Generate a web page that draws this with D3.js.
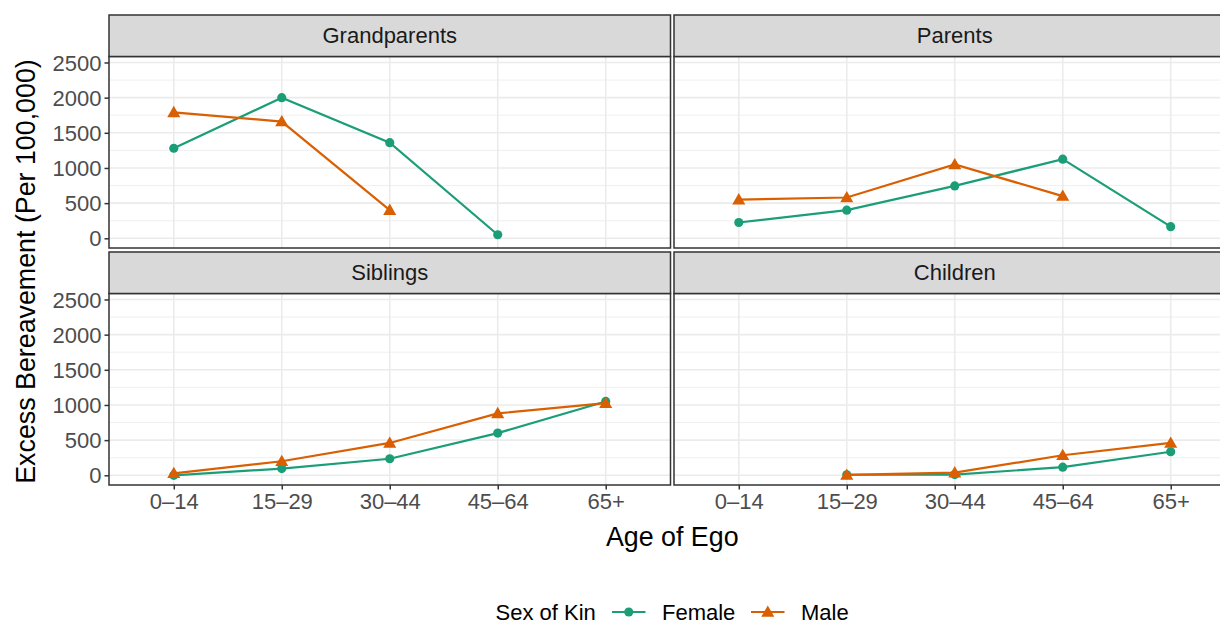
<!DOCTYPE html>
<html lang="en">
<head>
    <meta charset="UTF-8">
    <title>Excess Bereavement</title>
    <script src="https://d3js.org/d3.v7.min.js"></script>
    <style>
        html, body { margin: 0; padding: 0; background: #fff; overflow: hidden; }
        svg { display: block; font-family: "Liberation Sans", Arial, sans-serif; }
    </style>
</head>
<body>
    <svg id="chart"></svg>

    <script>
        // Data
        const ageGroups = ["0\u201314", "15\u201329", "30\u201344", "45\u201364", "65+"];
        const kinTypes = ["Grandparents", "Parents", "Siblings", "Children"];
        const sexes = ["Female", "Male"];

        const femaleValues = [
            [1280, 2000, 1360, 50, null],     // Grandparents
            [225, 400, 745, 1125, 165],       // Parents
            [0, 95, 235, 600, 1050],          // Siblings
            [null, 8, 10, 115, 335]           // Children
        ];
        const maleValues = [
            [1790, 1660, 400, null, null],
            [550, 580, 1050, 600, null],
            [28, 200, 460, 880, 1025],
            [null, 5, 38, 285, 460]
        ];
        const yTicks = [0, 500, 1000, 1500, 2000, 2500];
        const yMinorTicks = [250, 750, 1250, 1750, 2250];

        const colors = { Female: "#1B9E77", Male: "#D95F02" };

        const width = 1220;
        const height = 623;

        // panel layout (right panel runs a bit off the page, as in the original)
        const panelLeft = 109;
        const panelW = 561.5;
        const panelGap = 3.5;
        const stripTop = [15, 252];
        const stripH = 41.5;
        const panelH = 191.5;

        const svg = d3.select("#chart").attr("width", width).attr("height", height);

        const x = d3.scalePoint().domain(ageGroups).range([0, panelW]).padding(0.6);

        kinTypes.forEach((kin, k) => {
            const col = k % 2;
            const row = Math.floor(k / 2);
            const px = panelLeft + col * (panelW + panelGap);
            const sy = stripTop[row];
            const py = sy + stripH;

            const y = d3.scaleLinear().domain([-138, 2585]).range([py + panelH, py]);

            const g = svg.append("g").attr("transform", `translate(${px},0)`);

            // panel background + grid
            g.append("rect")
                .attr("x", 0).attr("y", py)
                .attr("width", panelW).attr("height", panelH)
                .attr("fill", "#fff");

            g.selectAll(".minor")
                .data(yMinorTicks)
                .enter().append("line")
                .attr("x1", 0).attr("x2", panelW)
                .attr("y1", d => y(d)).attr("y2", d => y(d))
                .attr("stroke", "#EBEBEB").attr("stroke-width", 0.8);

            g.selectAll(".major")
                .data(yTicks)
                .enter().append("line")
                .attr("x1", 0).attr("x2", panelW)
                .attr("y1", d => y(d)).attr("y2", d => y(d))
                .attr("stroke", "#EBEBEB").attr("stroke-width", 1.6);

            g.selectAll(".vgrid")
                .data(ageGroups)
                .enter().append("line")
                .attr("x1", d => x(d)).attr("x2", d => x(d))
                .attr("y1", py).attr("y2", py + panelH)
                .attr("stroke", "#EBEBEB").attr("stroke-width", 1.6);

            // lines and points per sex
            sexes.forEach(sex => {
                const vals = sex === "Female" ? femaleValues[k] : maleValues[k];
                const pts = ageGroups.map((a, i) => ({ age: a, v: vals[i] }));

                const line = d3.line()
                    .defined(d => d.v !== null)
                    .x(d => x(d.age))
                    .y(d => y(d.v));

                g.append("path")
                    .datum(pts)
                    .attr("d", line)
                    .attr("fill", "none")
                    .attr("stroke", colors[sex])
                    .attr("stroke-width", 2.2);

                const sym = d3.symbol()
                    .type(sex === "Female" ? d3.symbolCircle : d3.symbolTriangle)
                    .size(sex === "Female" ? 66 : 74);

                g.selectAll(`.pt-${sex}`)
                    .data(pts.filter(d => d.v !== null))
                    .enter().append("path")
                    .attr("d", sym)
                    .attr("transform", d => `translate(${x(d.age)},${y(d.v) + (sex === "Male" ? 1 : 0)})`)
                    .attr("fill", colors[sex]);
            });

            // panel border
            g.append("rect")
                .attr("x", 0).attr("y", py)
                .attr("width", panelW).attr("height", panelH)
                .attr("fill", "none")
                .attr("stroke", "#333333").attr("stroke-width", 1.5);

            // strip
            g.append("rect")
                .attr("x", 0).attr("y", sy)
                .attr("width", panelW).attr("height", stripH)
                .attr("fill", "#D9D9D9")
                .attr("stroke", "#333333").attr("stroke-width", 1.5);

            g.append("text")
                .attr("x", panelW / 2).attr("y", sy + stripH / 2 + 7.5)
                .attr("text-anchor", "middle")
                .attr("font-size", "22px")
                .attr("fill", "#1A1A1A")
                .text(kin);

            // y axis only on the left column
            if (col === 0) {
                const yAxis = d3.axisLeft(y).tickValues(yTicks).tickFormat(d3.format("d"))
                    .tickSize(4.5).tickPadding(3);
                const ax = g.append("g").call(yAxis);
                ax.select(".domain").remove();
                ax.selectAll("line").attr("stroke", "#333333").attr("stroke-width", 1.5);
                ax.selectAll("text")
                    .attr("font-size", "22px")
                    .attr("font-family", "Liberation Sans, Arial, sans-serif")
                    .attr("fill", "#4D4D4D")
                    .attr("dy", "0.35em");
            }

            // x axis only on the bottom row
            if (row === 1) {
                const xAxis = d3.axisBottom(x).tickSize(4.5).tickPadding(4);
                const ax = g.append("g")
                    .attr("transform", `translate(0,${py + panelH})`)
                    .call(xAxis);
                ax.select(".domain").remove();
                ax.selectAll("line").attr("stroke", "#333333").attr("stroke-width", 1.5);
                ax.selectAll("text")
                    .attr("font-size", "22px")
                    .attr("font-family", "Liberation Sans, Arial, sans-serif")
                    .attr("fill", "#4D4D4D")
                    .attr("dy", "0.71em");
            }
        });

        // axis titles
        svg.append("text")
            .attr("x", panelLeft + (2 * panelW + panelGap) / 2)
            .attr("y", 546)
            .attr("text-anchor", "middle")
            .attr("font-size", "26.8px")
            .text("Age of Ego");

        svg.append("text")
            .attr("transform", "translate(35,271.5) rotate(-90)")
            .attr("text-anchor", "middle")
            .attr("font-size", "26.8px")
            .text("Excess Bereavement (Per 100,000)");

        // legend
        const legend = svg.append("g").attr("transform", "translate(0,612)");
        legend.append("text")
            .attr("x", 495.5).attr("y", 7.5)
            .attr("font-size", "22px")
            .text("Sex of Kin");

        const keyX = { Female: 612, Male: 751 };
        sexes.forEach(sex => {
            const kx = keyX[sex];
            legend.append("line")
                .attr("x1", kx).attr("x2", kx + 33.5)
                .attr("y1", 0).attr("y2", 0)
                .attr("stroke", colors[sex]).attr("stroke-width", 2.2);
            legend.append("path")
                .attr("d", d3.symbol()
                    .type(sex === "Female" ? d3.symbolCircle : d3.symbolTriangle)
                    .size(sex === "Female" ? 66 : 74))
                .attr("transform", `translate(${kx + 16.75},${sex === "Male" ? 1 : 0})`)
                .attr("fill", colors[sex]);
            legend.append("text")
                .attr("x", kx + 50).attr("y", 7.5)
                .attr("font-size", "22px")
                .text(sex);
        });
    </script>
</body>
</html>
